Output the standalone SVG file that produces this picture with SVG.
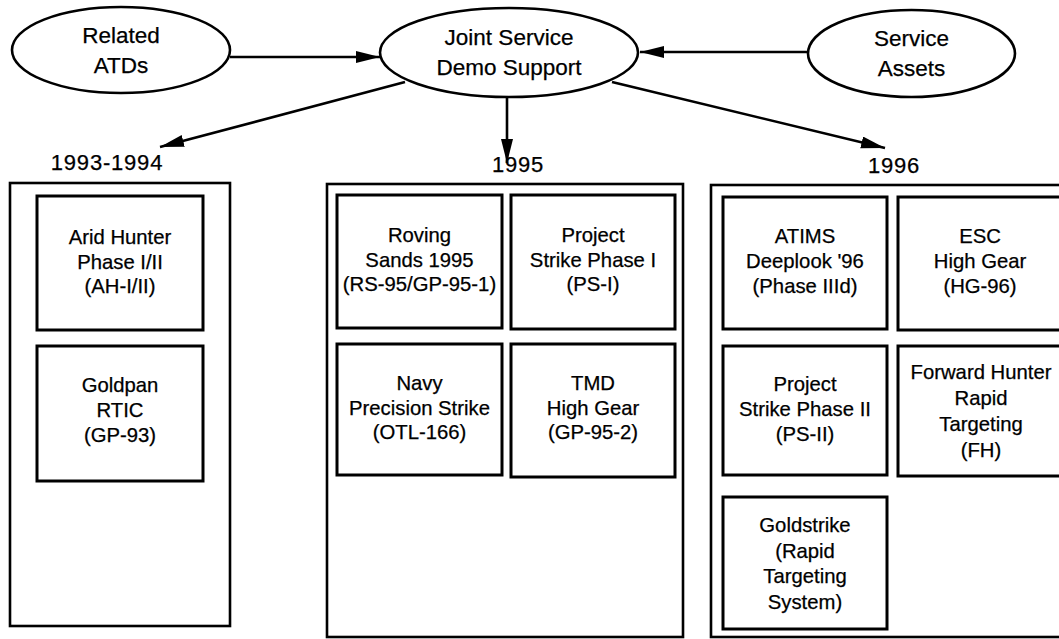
<svg xmlns="http://www.w3.org/2000/svg" width="1059" height="639" viewBox="0 0 1059 639">
<style>
text{font-family:"Liberation Sans",Arial,Helvetica,sans-serif;fill:#000;text-anchor:middle;stroke:#000;stroke-width:0.25}
.el{fill:#fff;stroke:#000;stroke-width:2.6}
.et{font-size:22.5px}
.bt{font-size:20.3px}
.yr{font-size:22px;letter-spacing:0.8px}
.outer{fill:none;stroke:#000;stroke-width:2.6}
.inner{fill:#fff;stroke:#000;stroke-width:3}
.cn line{stroke:#000;stroke-width:2.6;marker-end:url(#ah)}
</style>
<defs>
<marker id="ah" markerUnits="userSpaceOnUse" markerWidth="26" markerHeight="14" refX="24" refY="6" orient="auto">
<path d="M0,0 L24,6 L0,12 z" fill="#000"/>
</marker>
</defs>
<rect width="1059" height="639" fill="#fff"/>
<g id="connectors" class="cn">
<line x1="230" y1="57" x2="380" y2="57"/>
<line x1="808" y1="52" x2="640" y2="52"/>
<line x1="405" y1="82" x2="160" y2="147"/>
<line x1="507" y1="97" x2="507" y2="163"/>
<line x1="612" y1="82" x2="885" y2="148"/>
</g>
<g id="related-atds">
<ellipse class="el" cx="121" cy="50" rx="109" ry="43"/>
<text class="et" x="121" y="43">Related</text>
<text class="et" x="121" y="73">ATDs</text>
</g>
<g id="joint-service">
<ellipse class="el" cx="509" cy="52.5" rx="129" ry="44.5"/>
<text class="et" x="509" y="45">Joint Service</text>
<text class="et" x="509" y="75">Demo Support</text>
</g>
<g id="service-assets">
<ellipse class="el" cx="911.5" cy="53.5" rx="103.5" ry="43.5"/>
<text class="et" x="911.5" y="46">Service</text>
<text class="et" x="911.5" y="76">Assets</text>
</g>
<g id="col-1993">
<text class="yr" x="107" y="170">1993-1994</text>
<rect class="outer" x="10" y="183" width="220" height="443"/>
</g>
<g id="col-1995">
<text class="yr" x="518" y="172">1995</text>
<rect class="outer" x="327" y="184" width="356" height="453"/>
</g>
<g id="col-1996">
<text class="yr" x="894" y="173">1996</text>
<rect class="outer" x="711" y="185" width="360" height="452"/>
</g>
<g id="arid-hunter">
<rect class="inner" x="37" y="196" width="166" height="134"/>
<text class="bt" x="120" y="244">Arid Hunter</text>
<text class="bt" x="120" y="268.5">Phase I/II</text>
<text class="bt" x="120" y="293">(AH-I/II)</text>
</g>
<g id="goldpan">
<rect class="inner" x="37" y="346" width="166" height="135"/>
<text class="bt" x="120" y="392">Goldpan</text>
<text class="bt" x="120" y="417">RTIC</text>
<text class="bt" x="120" y="442">(GP-93)</text>
</g>
<g id="roving-sands">
<rect class="inner" x="337" y="195" width="165" height="133"/>
<text class="bt" x="419.5" y="242">Roving</text>
<text class="bt" x="419.5" y="266.5">Sands 1995</text>
<text class="bt" x="419.5" y="291">(RS-95/GP-95-1)</text>
</g>
<g id="project-strike-1">
<rect class="inner" x="511" y="195" width="164" height="134"/>
<text class="bt" x="593" y="242">Project</text>
<text class="bt" x="593" y="266.5">Strike Phase I</text>
<text class="bt" x="593" y="291">(PS-I)</text>
</g>
<g id="navy-precision">
<rect class="inner" x="337" y="344" width="165" height="131"/>
<text class="bt" x="419.5" y="390">Navy</text>
<text class="bt" x="419.5" y="414.5">Precision Strike</text>
<text class="bt" x="419.5" y="439">(OTL-166)</text>
</g>
<g id="tmd-high-gear">
<rect class="inner" x="511" y="344" width="164" height="133"/>
<text class="bt" x="593" y="390">TMD</text>
<text class="bt" x="593" y="414.5">High Gear</text>
<text class="bt" x="593" y="439">(GP-95-2)</text>
</g>
<g id="atims">
<rect class="inner" x="723" y="197" width="164" height="132"/>
<text class="bt" x="805" y="243">ATIMS</text>
<text class="bt" x="805" y="268">Deeplook '96</text>
<text class="bt" x="805" y="293">(Phase IIId)</text>
</g>
<g id="esc-high-gear">
<rect class="inner" x="898" y="197" width="164" height="133"/>
<text class="bt" x="980" y="243">ESC</text>
<text class="bt" x="980" y="268">High Gear</text>
<text class="bt" x="980" y="293">(HG-96)</text>
</g>
<g id="project-strike-2">
<rect class="inner" x="723" y="346" width="164" height="129"/>
<text class="bt" x="805" y="391">Project</text>
<text class="bt" x="805" y="416">Strike Phase II</text>
<text class="bt" x="805" y="441">(PS-II)</text>
</g>
<g id="forward-hunter">
<rect class="inner" x="898" y="346" width="164" height="130"/>
<text class="bt" x="981" y="379">Forward Hunter</text>
<text class="bt" x="981" y="405">Rapid</text>
<text class="bt" x="981" y="431">Targeting</text>
<text class="bt" x="981" y="457">(FH)</text>
</g>
<g id="goldstrike">
<rect class="inner" x="723" y="497" width="164" height="132"/>
<text class="bt" x="805" y="532">Goldstrike</text>
<text class="bt" x="805" y="557.5">(Rapid</text>
<text class="bt" x="805" y="583">Targeting</text>
<text class="bt" x="805" y="608.5">System)</text>
</g>
</svg>
